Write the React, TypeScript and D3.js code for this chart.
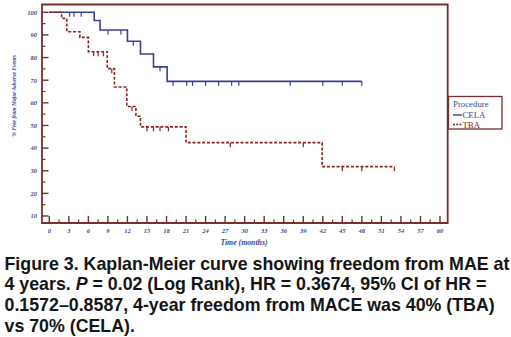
import React from "react";
import * as d3 from "d3";

// ---- data ----
const celaTimes = [0, 6.9, 7.8, 12, 14, 16, 18.1];
const celaSurv = [100, 96.4, 92.2, 87.2, 81.6, 75.9, 69.5];
const celaEnd = 48;
const celaCensor = [3.1, 3.8, 4.9, 9, 11, 12.9, 17, 19, 21.1, 22, 24, 26, 28, 29.1, 37, 42, 45, 48];

const tbaTimes = [0, 1.9, 2.7, 4.7, 6, 8.9, 10, 11.9, 13.3, 14, 21, 41.9];
const tbaSurv = [100, 97.3, 91.4, 88.9, 82.6, 75.1, 67.0, 58.4, 54.1, 49.4, 42.4, 31.8];
const tbaEnd = 53;
const tbaCensor = [6.8, 7.5, 8.3, 9.6, 12.7, 15, 16, 17, 18.3, 27.8, 39, 45, 48, 53];

const xTicks = d3.range(0, 61, 3);
const xMinor = d3.range(1.5, 60, 3);
const yTicks = d3.range(10, 101, 10);
const yMinor = d3.range(15, 100, 10);

const captionLines = [
  ["Figure 3. Kaplan-Meier curve showing freedom from MAE at"],
  ["4 years. ", "P", " = 0.02 (Log Rank), HR = 0.3674, 95% CI of HR ="],
  ["0.1572\u20130.8587, 4-year freedom from MACE was 40% (TBA)"],
  ["vs 70% (CELA)."],
];

const FRAME = "#74302f";
const BLUE = "#3c3f97";
const RED = "#8c2222";
const LABEL = "#3d4a8f";

function stepPath(times: number[], surv: number[], end: number, x: any, y: any) {
  const pts: [number, number][] = [];
  for (let i = 0; i < times.length; i++) {
    if (i > 0) pts.push([times[i], surv[i - 1]]);
    pts.push([times[i], surv[i]]);
  }
  pts.push([end, surv[surv.length - 1]]);
  return d3.line<[number, number]>().x((d) => x(d[0])).y((d) => y(d[1]))(pts) || "";
}

function survAt(times: number[], surv: number[], t: number) {
  let v = surv[0];
  for (let i = 0; i < times.length; i++) if (times[i] <= t) v = surv[i];
  return v;
}

export default function App() {
  const W = 511, H = 337;
  const x = d3.scaleLinear().domain([0, 60]).range([49.3, 440]);
  const y = d3.scaleLinear().domain([10, 100]).range([216, 12.3]);
  const L = 42, R = 447.7, T = 4.5, B = 223;
  const serif = "'Liberation Serif', 'DejaVu Serif', serif";

  return (
    <svg width={W} height={H} style={{ position: "absolute", left: 0, top: 0 }}>
      <rect width={W} height={H} fill="#fff" />
      {/* frame */}
      <path d={`M${L},${T}H${R}V${B}H${L}Z`} fill="none" stroke={FRAME} strokeWidth={1.8} />
      {/* y ticks */}
      {yTicks.map((t) => (
        <g key={"y" + t}>
          <line x1={L} x2={L + 6.5} y1={y(t)} y2={y(t)} stroke={FRAME} strokeWidth={1.4} />
          <text x={37} y={y(t) + 2.3} textAnchor="end" fontFamily={serif} fontStyle="italic" fontWeight="bold" fontSize={6.5} fill={LABEL}>
            {t}
          </text>
        </g>
      ))}
      {yMinor.map((t) => (
        <line key={"ym" + t} x1={L} x2={L + 3.5} y1={y(t)} y2={y(t)} stroke={FRAME} strokeWidth={1.2} />
      ))}
      {/* x ticks */}
      {xTicks.map((t) => (
        <g key={"x" + t}>
          <line x1={x(t)} x2={x(t)} y1={B} y2={B - 7} stroke={FRAME} strokeWidth={1.4} />
          <text x={x(t)} y={233} textAnchor="middle" fontFamily={serif} fontStyle="italic" fontWeight="bold" fontSize={6.5} fill={LABEL}>
            {t}
          </text>
        </g>
      ))}
      {xMinor.map((t) => (
        <line key={"xm" + t} x1={x(t)} x2={x(t)} y1={B} y2={B - 3.5} stroke={FRAME} strokeWidth={1.2} />
      ))}
      {/* axis labels */}
      <text x={244} y={245} textAnchor="middle" fontFamily={serif} fontStyle="italic" fontWeight="bold" fontSize={7.8} fill={LABEL}>
        Time (months)
      </text>
      <text
        transform="translate(15.5,96) rotate(-90)"
        textAnchor="middle"
        fontFamily={serif}
        fontStyle="italic"
        fontWeight="bold"
        fontSize={5.6}
        fill={LABEL}
      >
        % Free from Major Adverse Events
      </text>
      {/* curves */}
      <path d={stepPath(celaTimes, celaSurv, celaEnd, x, y)} fill="none" stroke={BLUE} strokeWidth={1.6} />
      {celaCensor.map((t, i) => {
        const v = survAt(celaTimes, celaSurv, t);
        return <line key={"cc" + i} x1={x(t)} x2={x(t)} y1={y(v)} y2={y(v) + 4.5} stroke={BLUE} strokeWidth={1.2} />;
      })}
      <path
        d={stepPath(tbaTimes, tbaSurv, tbaEnd, x, y)}
        fill="none"
        stroke={RED}
        strokeWidth={1.6}
        strokeDasharray="3,1.8"
      />
      {tbaCensor.map((t, i) => {
        const v = survAt(tbaTimes, tbaSurv, t);
        return <line key={"tc" + i} x1={x(t)} x2={x(t)} y1={y(v)} y2={y(v) + 4.5} stroke={RED} strokeWidth={1.2} />;
      })}
      {/* legend */}
      <rect x={448.5} y={96.5} width={53.5} height={32.5} fill="#fff" stroke={FRAME} strokeWidth={1.3} />
      <text x={453} y={106.5} fontFamily={serif} fontSize={8.8} fill={LABEL}>
        Procedure
      </text>
      <line x1={453} x2={462} y1={115} y2={115} stroke={BLUE} strokeWidth={1.4} />
      <text x={462.5} y={118} fontFamily={serif} fontSize={8.8} fill={BLUE}>
        CELA
      </text>
      <line x1={453} x2={462} y1={124.5} y2={124.5} stroke={RED} strokeWidth={1.4} strokeDasharray="2,1.2" />
      <text x={462.5} y={127.8} fontFamily={serif} fontSize={8.8} fill={RED}>
        TBA
      </text>
      {/* caption */}
      {captionLines.map((parts, i) => (
        <text
          key={"cap" + i}
          x={4.5}
          y={269.5 + i * 20.8}
          fontFamily="'Liberation Sans', Arial, Helvetica, sans-serif"
          fontSize={17.8}
          fontWeight="bold"
          fill="#151515"
        >
          {parts.map((p, j) => (
            <tspan key={j} fontStyle={p === "P" ? "italic" : "normal"}>
              {p}
            </tspan>
          ))}
        </text>
      ))}
    </svg>
  );
}
